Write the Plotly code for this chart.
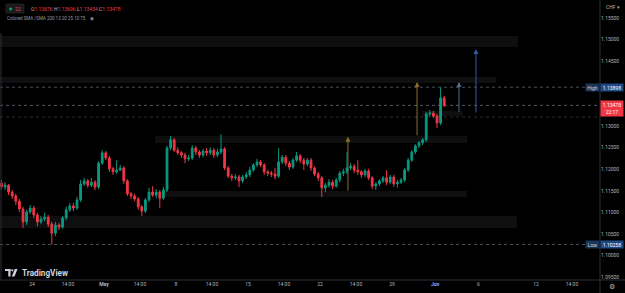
import plotly.graph_objects as go

# ---------------- data ----------------
n_bars = 124
bar_day = [-2.125 + 0.25 * i for i in range(n_bars)]  # trading-day units, Apr 24 = 0

open_ = [1.1168,1.1159,1.1163,1.1147,1.1138,1.1126,1.1108,1.1078,1.1101,1.1110,
 1.1094,1.1078,1.1085,1.1089,1.1073,1.1052,1.1071,1.1066,1.1087,1.1106,
 1.1115,1.1110,1.1129,1.1166,1.1173,1.1163,1.1170,1.1159,1.1214,1.1238,
 1.1226,1.1201,1.1194,1.1198,1.1203,1.1173,1.1143,1.1138,1.1131,1.1113,
 1.1103,1.1129,1.1147,1.1140,1.1147,1.1133,1.1152,1.1249,1.1268,1.1244,
 1.1238,1.1233,1.1224,1.1226,1.1249,1.1240,1.1233,1.1242,1.1238,1.1244,
 1.1233,1.1240,1.1247,1.1203,1.1184,1.1180,1.1182,1.1173,1.1182,1.1187,
 1.1198,1.1210,1.1217,1.1210,1.1194,1.1191,1.1189,1.1184,1.1217,1.1228,
 1.1214,1.1205,1.1221,1.1231,1.1221,1.1212,1.1221,1.1203,1.1189,1.1180,
 1.1157,1.1163,1.1170,1.1161,1.1175,1.1191,1.1194,1.1203,1.1207,1.1198,
 1.1194,1.1187,1.1196,1.1180,1.1161,1.1166,1.1173,1.1180,1.1170,1.1182,
 1.1166,1.1170,1.1175,1.1198,1.1221,1.1240,1.1254,1.1261,1.1268,1.1328,
 1.1330,1.1323,1.1307,1.1365]

close = [1.1159,1.1163,1.1147,1.1138,1.1126,1.1108,1.1078,1.1101,1.1110,1.1094,
 1.1078,1.1085,1.1089,1.1073,1.1052,1.1071,1.1066,1.1087,1.1106,1.1115,
 1.1110,1.1129,1.1166,1.1173,1.1163,1.1170,1.1159,1.1214,1.1238,1.1226,
 1.1201,1.1194,1.1198,1.1203,1.1173,1.1143,1.1138,1.1131,1.1113,1.1103,
 1.1129,1.1147,1.1140,1.1147,1.1133,1.1152,1.1249,1.1268,1.1244,1.1238,
 1.1233,1.1224,1.1226,1.1249,1.1240,1.1233,1.1242,1.1238,1.1244,1.1233,
 1.1240,1.1247,1.1203,1.1184,1.1180,1.1182,1.1173,1.1182,1.1187,1.1198,
 1.1210,1.1217,1.1210,1.1194,1.1191,1.1189,1.1184,1.1217,1.1228,1.1214,
 1.1205,1.1221,1.1231,1.1221,1.1212,1.1221,1.1203,1.1189,1.1180,1.1157,
 1.1163,1.1170,1.1161,1.1175,1.1191,1.1194,1.1203,1.1207,1.1198,1.1194,
 1.1187,1.1196,1.1180,1.1161,1.1166,1.1173,1.1180,1.1170,1.1182,1.1166,
 1.1170,1.1175,1.1198,1.1221,1.1240,1.1254,1.1261,1.1268,1.1328,1.1330,
 1.1323,1.1307,1.1365,1.13478]

high = [1.1175,1.1170,1.1166,1.1152,1.1143,1.1131,1.1113,1.1106,1.1117,1.1115,
 1.1099,1.1092,1.1099,1.1094,1.1078,1.1078,1.1075,1.1092,1.1113,1.1122,
 1.1122,1.1136,1.1175,1.1180,1.1177,1.1180,1.1175,1.1219,1.1244,1.1242,
 1.1231,1.1205,1.1221,1.1210,1.1207,1.1177,1.1147,1.1143,1.1136,1.1117,
 1.1133,1.1157,1.1161,1.1154,1.1152,1.1159,1.1254,1.1277,1.1272,1.1251,
 1.1242,1.1238,1.1233,1.1256,1.1254,1.1244,1.1247,1.1249,1.1251,1.1249,
 1.1247,1.1281,1.1251,1.1207,1.1189,1.1189,1.1187,1.1187,1.1194,1.1205,
 1.1214,1.1224,1.1221,1.1214,1.1198,1.1196,1.1203,1.1249,1.1233,1.1233,
 1.1219,1.1226,1.1240,1.1235,1.1226,1.1226,1.1226,1.1207,1.1194,1.1184,
 1.1168,1.1177,1.1175,1.1180,1.1196,1.1201,1.1240,1.1214,1.1212,1.1221,
 1.1198,1.1201,1.1201,1.1184,1.1170,1.1177,1.1184,1.1198,1.1187,1.1187,
 1.1175,1.1180,1.1203,1.1226,1.1244,1.1258,1.1265,1.1272,1.1332,1.1337,
 1.1335,1.1328,1.13898,1.1370]

low = [1.1152,1.1152,1.1140,1.1131,1.1117,1.1101,1.1064,1.1071,1.1096,1.1087,
 1.1068,1.1073,1.1080,1.1066,1.10258,1.1045,1.1059,1.1062,1.1082,1.1101,
 1.1103,1.1106,1.1124,1.1161,1.1157,1.1159,1.1152,1.1154,1.1210,1.1221,
 1.1194,1.1187,1.1189,1.1196,1.1166,1.1138,1.1131,1.1126,1.1106,1.1092,
 1.1099,1.1124,1.1136,1.1133,1.1110,1.1129,1.1147,1.1244,1.1240,1.1233,
 1.1226,1.1214,1.1219,1.1221,1.1233,1.1226,1.1228,1.1231,1.1233,1.1226,
 1.1228,1.1235,1.1198,1.1180,1.1173,1.1175,1.1159,1.1168,1.1177,1.1182,
 1.1194,1.1205,1.1205,1.1187,1.1184,1.1182,1.1177,1.1180,1.1212,1.1207,
 1.1198,1.1201,1.1217,1.1214,1.1198,1.1207,1.1196,1.1184,1.1173,1.1136,
 1.1147,1.1157,1.1154,1.1157,1.1170,1.1184,1.1189,1.1198,1.1191,1.1187,
 1.1180,1.1182,1.1175,1.1154,1.1152,1.1161,1.1168,1.1163,1.1166,1.1159,
 1.1157,1.1166,1.1170,1.1194,1.1217,1.1235,1.1249,1.1256,1.1263,1.1321,
 1.1319,1.1295,1.1302,1.1344]

tick_days = [0, 2.5, 5, 7.5, 10, 12.5, 15, 17.5, 20, 22.5, 25, 28, 31, 35, 37.5]
tick_text = ["24", "14:00", "<b>May</b>", "14:00", "8", "14:00", "15", "14:00", "22",
             "14:00", "29", "<b><span style='color:#8fa4ff'>Jun</span></b>", "6", "12", "14:00"]
price_ticks = [1.095, 1.100, 1.105, 1.110, 1.115, 1.120, 1.125, 1.130, 1.145, 1.150, 1.155]

# supply / demand zones
zone_x0 = [-2.3, -2.3, 27.08, 8.54, 9.03, -2.3]
zone_x1 = [33.75, 32.22, 29.93, 30.21, 30.21, 33.68]
zone_lo = [1.14829, 1.13996, 1.13232, 1.12607, 1.11357, 1.10639]
zone_hi = [1.15084, 1.14135, 1.13348, 1.12769, 1.11496, 1.10917]

# projection arrows
arrow_day = [21.94, 26.74, 29.65, 30.83]
arrow_from = [1.1147, 1.1275, 1.1330, 1.1328]
arrow_to = [1.1275, 1.1402, 1.1402, 1.1478]
arrow_color = ["#8c6d2c", "#8c6d2c", "#4f6f8f", "#2b5ea8"]

high_level = 1.13898
low_level = 1.10258
last_price = close[-1]
prev_level = 1.13209

legend_ohlc = ["1.13676", "1.13696", "1.13454", "1.13478"]

# ---------------- figure ----------------
W, H = 625, 293
PW, PH = 600, 280
def pxx(x): return x / PW
def pyy(y): return 1 - y / PH

fig = go.Figure()
fig.add_trace(go.Candlestick(
    x=bar_day, open=open_, high=high, low=low, close=close,
    increasing=dict(line=dict(color="#089981", width=1), fillcolor="#089981"),
    decreasing=dict(line=dict(color="#f23645", width=1), fillcolor="#f23645"),
    whiskerwidth=0, showlegend=False, hoverinfo="skip"))

shapes = []
for x0, x1, lo, hi in zip(zone_x0, zone_x1, zone_lo, zone_hi):
    shapes.append(dict(type="rect", xref="x", yref="y", x0=x0, x1=x1, y0=lo, y1=hi,
                       fillcolor="rgba(255,255,255,0.06)", line=dict(width=0), layer="below"))
for lvl, col in [(high_level, "#4a4d56"), (last_price, "#555862"), (prev_level, "#2c2e34"), (low_level, "#4a4d56")]:
    shapes.append(dict(type="line", xref="paper", yref="y", x0=0, x1=1, y0=lvl, y1=lvl,
                       line=dict(color=col, width=1, dash="dot"), layer="below"))
# axis separators
shapes.append(dict(type="line", xref="paper", yref="paper", x0=1, x1=1, y0=-13/PH, y1=1,
                   line=dict(color="#2a2e39", width=1)))
shapes.append(dict(type="line", xref="paper", yref="paper", x0=0, x1=W/PW, y0=0, y1=0,
                   line=dict(color="#2a2e39", width=1)))
shapes.append(dict(type="line", xref="paper", yref="paper", x0=pxx(1), x1=pxx(1), y0=0, y1=pyy(33),
                   line=dict(color="#2a2e39", width=1)))
# legend pill
shapes.append(dict(type="rect", xref="paper", yref="paper", x0=pxx(6), x1=pxx(24), y0=pyy(13), y1=pyy(4),
                   fillcolor="#1a1a1a", line=dict(color="#333", width=0.5)))
# TradingView logo
shapes.append(dict(type="rect", xref="paper", yref="paper", x0=pxx(5), x1=pxx(10.5), y0=pyy(271), y1=pyy(269),
                   fillcolor="#d1d4dc", line=dict(width=0)))
shapes.append(dict(type="rect", xref="paper", yref="paper", x0=pxx(8.3), x1=pxx(10.5), y0=pyy(276.5), y1=pyy(269),
                   fillcolor="#d1d4dc", line=dict(width=0)))
shapes.append(dict(type="circle", xref="paper", yref="paper", x0=pxx(11.2), x1=pxx(13.4), y0=pyy(271.4), y1=pyy(269.2),
                   fillcolor="#d1d4dc", line=dict(width=0)))
shapes.append(dict(type="path", xref="paper", yref="paper",
                   path=f"M {pxx(14.8)},{pyy(269)} L {pxx(17.5)},{pyy(269)} L {pxx(14.5)},{pyy(276.5)} L {pxx(11.8)},{pyy(276.5)} Z",
                   fillcolor="#d1d4dc", line=dict(width=0)))

annotations = []
for d, y0, y1, c in zip(arrow_day, arrow_from, arrow_to, arrow_color):
    annotations.append(dict(x=d, y=y1, ax=d, ay=y0, xref="x", yref="y", axref="x", ayref="y",
                            showarrow=True, arrowhead=2, arrowsize=1, arrowwidth=1, arrowcolor=c, text=""))

small = dict(family="Roboto", size=5, color="#b2b5be")
# legend texts
annotations.append(dict(xref="paper", yref="paper", x=pxx(11), y=pyy(8.5), text="●", showarrow=False,
                        font=dict(family="DejaVu Sans", size=4, color="#089981"), xanchor="center", yanchor="middle"))
annotations.append(dict(xref="paper", yref="paper", x=pxx(18), y=pyy(8.5), text="22", showarrow=False,
                        font=dict(family="Roboto", size=5, color="#f23645"), xanchor="center", yanchor="middle"))
leg = "".join(f"<span style='color:#b2b5be'>{k}</span><span style='color:#f23645'>{v}</span>&nbsp;"
              for k, v in zip(["O", "H", "L", "C"], legend_ohlc))
annotations.append(dict(xref="paper", yref="paper", x=pxx(29), y=pyy(8.5), text=leg, showarrow=False,
                        font=dict(family="Roboto", size=5), xanchor="left", yanchor="middle"))
annotations.append(dict(xref="paper", yref="paper", x=pxx(5), y=pyy(18), text="Colored SMA /SMA 200 13 20 25 10 75",
                        showarrow=False, font=dict(family="Roboto", size=4.5, color="#9598a1"),
                        xanchor="left", yanchor="middle"))
annotations.append(dict(xref="paper", yref="paper", x=pxx(92), y=pyy(18), text="◉", showarrow=False,
                        font=dict(family="DejaVu Sans", size=4.5, color="#9598a1"), xanchor="center", yanchor="middle"))
annotations.append(dict(xref="paper", yref="paper", x=pxx(604), y=pyy(7), text="CHF ▾", showarrow=False,
                        font=small, xanchor="left", yanchor="middle"))
annotations.append(dict(xref="paper", yref="paper", x=pxx(20), y=pyy(272.5), text="<b>TradingView</b>",
                        showarrow=False, font=dict(family="Roboto", size=8.2, color="#d1d4dc"),
                        xanchor="left", yanchor="middle"))
annotations.append(dict(xref="paper", yref="paper", x=pxx(612), y=pyy(287), text="⚙", showarrow=False,
                        font=dict(family="DejaVu Sans", size=7, color="#b2b5be"), xanchor="center", yanchor="middle"))

# price labels on the right
for name, lvl in [("High", high_level), ("Low", low_level)]:
    annotations.append(dict(xref="paper", yref="y", x=1, y=lvl, text=name, showarrow=False,
                            font=dict(family="Roboto", size=5, color="#d1d4dc"), bgcolor="#1b3558",
                            xanchor="right", yanchor="middle", width=13, height=7, borderpad=0))
    annotations.append(dict(xref="paper", yref="y", x=1, y=lvl, text=f"{lvl:.5f}", showarrow=False,
                            font=dict(family="Roboto", size=5, color="#ffffff"), bgcolor="#1f4a87",
                            xanchor="left", yanchor="middle", width=22, height=7, borderpad=0))
annotations.append(dict(xref="paper", yref="y", x=1, y=last_price, text=f"{last_price:.5f}<br>22:17",
                        showarrow=False, font=dict(family="Roboto", size=5, color="#ffffff"), bgcolor="#f23645",
                        xanchor="left", yanchor="top", yshift=5, width=22, height=15, borderpad=0))

fig.update_layout(
    width=W, height=H, margin=dict(l=0, r=W - PW, t=0, b=H - PH),
    paper_bgcolor="#000000", plot_bgcolor="#000000",
    shapes=shapes, annotations=annotations, showlegend=False,
    xaxis=dict(range=[-2.222, 39.444], rangeslider=dict(visible=False), showgrid=False, zeroline=False,
               tickmode="array", tickvals=tick_days, ticktext=tick_text, tickfont=small, ticks="",
               showline=False, fixedrange=True),
    yaxis=dict(range=[1.09436, 1.15917], side="right", showgrid=False, zeroline=False,
               tickmode="array", tickvals=price_ticks, tickformat=".5f", tickfont=small, ticks="",
               showline=False, fixedrange=True),
)

fig.write_html("out.html")
